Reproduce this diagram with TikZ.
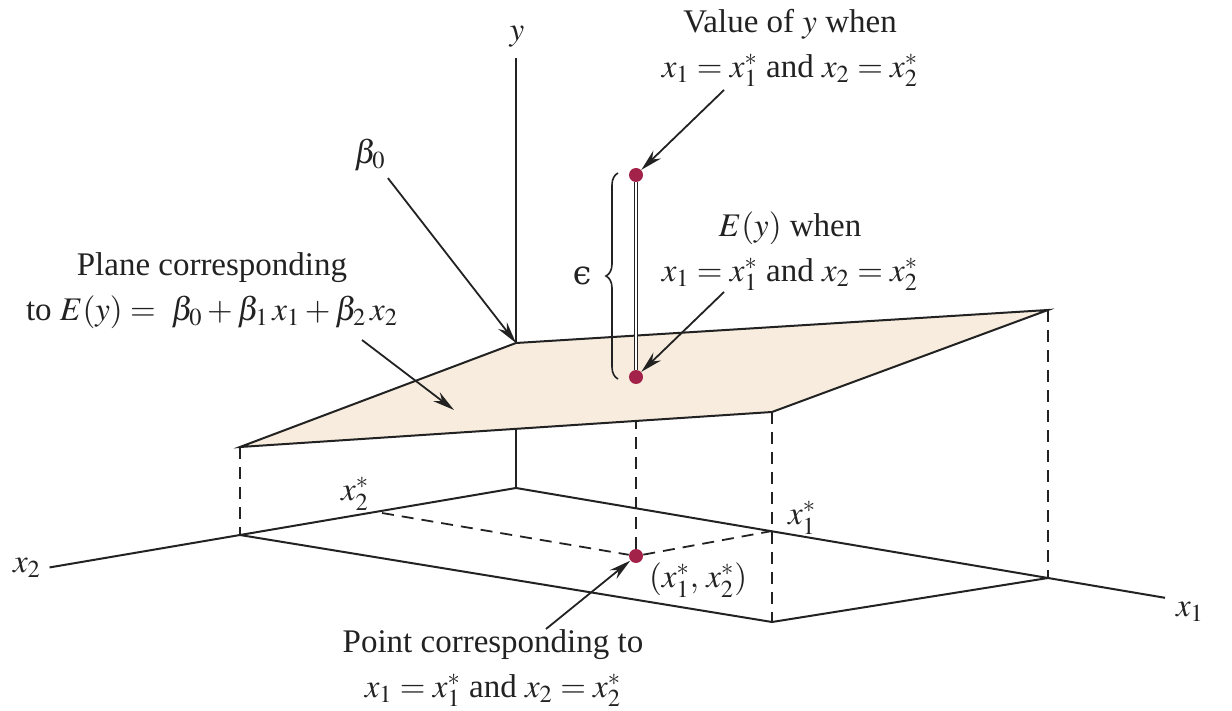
\documentclass[tikz,border=0pt]{standalone}
\usepackage{mathptmx}
\usepackage{fontspec}
\setmainfont{Liberation Serif}
\newfontfamily\epsfont{DejaVu Serif}
\usetikzlibrary{arrows.meta, calc, decorations.pathreplacing}

\definecolor{planefill}{HTML}{F7ECDD}
\definecolor{dotred}{HTML}{A3224A}
\definecolor{ink}{HTML}{222222}

\tikzset{
  axis/.style={draw=ink, line width=1pt},
  hidden/.style={draw=ink, line width=0.9pt, dash pattern=on 6pt off 4pt},
  pointer/.style={->, draw=ink, line width=0.9pt},
  ptdot/.style={circle, fill=dotred, inner sep=0pt, minimum size=7pt},
  lbl/.style={text=ink, align=center},
}

\begin{document}
\begin{tikzpicture}[x=0.5pt, y=-0.5pt, >={Stealth[length=11pt,width=5.5pt]},
    font=\fontsize{16.5}{22.5}\selectfont]
    \useasboundingbox (0,0) rectangle (1232,711);

    % axes and box corners
    \coordinate (O) at (516,488);
    \coordinate (ytop) at (516,58);
    \coordinate (B0) at (516,343);
    \coordinate (PL) at (240,447);
    \coordinate (PF) at (772,412);
    \coordinate (PR) at (1048,310);
    \coordinate (FL) at (240,535);
    \coordinate (FF) at (772,622);
    \coordinate (FR) at (1048,578);
    \coordinate (x1end) at ($(O)!1.22!(FR)$);
    \coordinate (x2end) at ($(O)!1.69!(FL)$);
    \coordinate (X1s) at (772,531);
    \coordinate (X2s) at (382,513);
    \coordinate (Pedge) at (636,420);

    \draw[axis] (x2end) -- (O) -- (x1end);
    \draw[axis] (O) -- (ytop);
    \filldraw[axis, fill=planefill] (B0) -- (PR) -- (PF) -- (PL) -- cycle;
    \draw[axis] (FL) -- (FF) -- (FR);
    \draw[hidden] (PL) -- (FL);
    \draw[hidden] (PF) -- (FF);
    \draw[hidden] (PR) -- (FR);

    % the observed point
    \node[ptdot] (P) at (636,556) {};
    \node[ptdot] (Ey) at (636,377) {};
    \node[ptdot] (Yv) at (636,175) {};
    \draw[hidden] (X2s) -- (P) -- (X1s);
    \draw[hidden] (P) -- (Pedge);
    \draw[draw=ink, line width=0.6pt, double=white, double distance=1pt] (Ey) -- (Yv);
    \draw[draw=ink, line width=0.8pt, decorate, decoration={brace, amplitude=6pt}]
        (618,379) -- (618,173);

    % labels
    \node[lbl] (ylbl) at (517,37) {$y$};
    \node[lbl] (x1lbl) at (1190,612) {$x_1$};
    \node[lbl] (x2lbl) at (27,568) {$x_2$};
    \node[lbl] (x1slbl) at (802,518) {$x_1^*$};
    \node[lbl] (x2slbl) at (355,494) {$x_2^*$};
    \node[lbl, anchor=west] (Plbl) at (642,580) {$(x_1^*,\, x_2^*)$};
    \node[lbl] (epslbl) at (582,276) {\epsfont ϵ};
    \node[lbl] (b0lbl) at (370,155) {$\beta_0$};
    \node[lbl] (vallbl) at (790,48) {Value of $y$ when\\ $x_1 = x_1^*$ and $x_2 = x_2^*$};
    \node[lbl] (eylbl) at (790,251) {$E(y)$ when\\ $x_1 = x_1^*$ and $x_2 = x_2^*$};
    \node[lbl] (planelbl) at (212,291) {Plane corresponding\\ to $E(y) = \ \beta_0 + \beta_1\, x_1 + \beta_2\, x_2$};
    \node[lbl] (ptlbl) at (493,668) {Point corresponding to\\ $x_1 = x_1^*$ and $x_2 = x_2^*$};

    % pointers
    \coordinate (valtail) at (724,90);
    \coordinate (eytail) at (724,292);
    \coordinate (planetail) at (362,340);
    \coordinate (planetip) at (454,410);
    \coordinate (pttail) at (546,629);
    \draw[pointer] (b0lbl) -- (B0);
    \draw[pointer] (valtail) -- (Yv);
    \draw[pointer] (eytail) -- (Ey);
    \draw[pointer] (planetail) -- (planetip);
    \draw[pointer] (pttail) -- (P);
\end{tikzpicture}
\end{document}
